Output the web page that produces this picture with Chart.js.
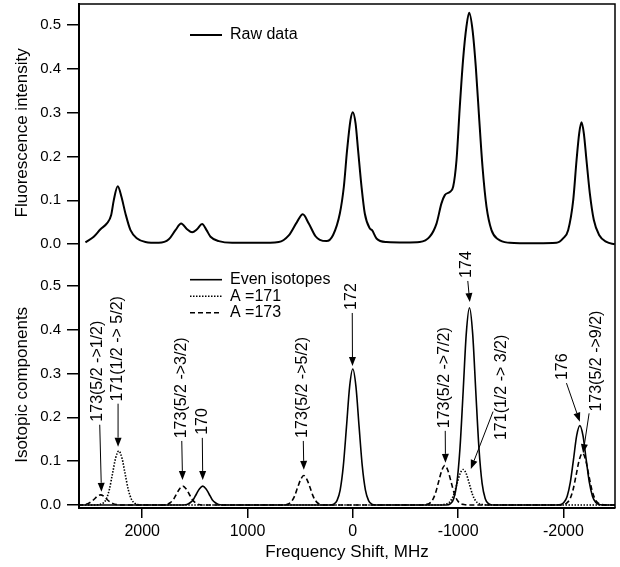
<!DOCTYPE html>
<html>
<head>
<meta charset="utf-8">
<script src="https://cdn.jsdelivr.net/npm/chart.js@4/dist/chart.umd.min.js"></script>
<style>
  html,body{margin:0;padding:0;background:#fff;}
  #wrap{width:620px;height:567px;}
</style>
</head>
<body>
<div id="wrap"><canvas id="shift" width="620" height="567"></canvas></div>
<script>
// top panel: raw fluorescence scan (MHz, intensity)
const rawX = [-2488,-2409,-2339,-2289,-2251,-2219,-2194,-2172,-2150,-2125,-2093,-2045,-1997,-1934,-1750,-1586,
  -1491,-1380,-1317,-1270,-1232,-1199,-1168,-1137,-1105,-1080,-1047,-1016,-985,-953,-921,-874,-842,-795,-731,
  -636,-500,-320,-225,-183,-161,-114,-83,-50,-26,0,22,54,85,123,187,250,313,354,418,475,529,608,703,900,
  1146,1273,1351,1389,1431,1479,1526,1574,1630,1684,1747,1842,1969,2048,2111,2159,2197,2232,2270,2295,2333,
  2396,2460,2539];
const rawY = [0.000,0.005,0.021,0.055,0.116,0.192,0.253,0.278,0.253,0.192,0.100,0.032,0.013,0.003,0.002,0.002,
  0.003,0.011,0.032,0.085,0.176,0.291,0.405,0.489,0.528,0.498,0.420,0.313,0.192,0.131,0.119,0.112,0.093,0.047,0.017,
  0.005,0.004,0.005,0.013,0.032,0.036,0.070,0.131,0.215,0.276,0.301,0.283,0.215,0.131,0.070,0.021,0.007,0.010,0.018,0.047,0.068,0.051,0.020,0.005,0.003,
  0.003,0.007,0.017,0.032,0.046,0.034,0.027,0.034,0.047,0.032,0.011,0.003,0.005,0.013,0.032,0.070,0.108,0.132,0.100,0.066,0.048,
  0.034,0.017,0.004];

// bottom panel: fitted components
const evenX = [-2490,
  -2376,-2336,-2306,-2276,-2246,-2216,-2186,-2156,-2126,-2096,-2066,-2036,-2006,-1976,-1936,
  -1328,-1288,-1258,-1228,-1198,-1168,-1138,-1108,-1078,-1048,-1018,-988,-958,-928,-888,
  -220,-180,-150,-120,-90,-60,-30,0,30,60,90,120,150,180,220,
  1205,1245,1275,1305,1335,1365,1395,1425,1455,1485,1515,1545,1575,1605,1645,
  2600];
const evenY = [0,
  0,0.001,0.006,0.020,0.052,0.104,0.158,0.181,0.158,0.104,0.052,0.020,0.006,0.001,0,
  0,0.003,0.014,0.049,0.130,0.259,0.392,0.450,0.392,0.259,0.130,0.049,0.014,0.003,0,
  0,0.002,0.010,0.034,0.089,0.178,0.270,0.310,0.270,0.178,0.089,0.034,0.010,0.002,0,
  0,0,0.001,0.005,0.012,0.025,0.037,0.043,0.037,0.025,0.012,0.005,0.001,0,0,
  0];

const a171X = [-2490,
  -1268,-1228,-1198,-1168,-1138,-1108,-1078,-1048,-1018,-988,-958,-928,-898,-868,-828,
  2002,2042,2072,2102,2132,2162,2192,2222,2252,2282,2312,2342,2372,2402,2442,
  2600];
const a171Y = [0,
  0,0.001,0.003,0.009,0.023,0.047,0.071,0.081,0.071,0.047,0.023,0.009,0.003,0.001,0,
  0,0.001,0.004,0.013,0.035,0.071,0.107,0.123,0.107,0.071,0.035,0.013,0.004,0.001,0,
  0];

const a173X = [-2490,
  -2401,-2361,-2331,-2301,-2271,-2241,-2211,-2181,-2151,-2121,-2091,-2061,-2031,-2001,-1961,
  -1094,-1054,-1024,-994,-964,-934,-904,-874,-844,-814,-784,-754,-724,-694,-654,
  245,285,315,345,375,405,435,465,495,525,555,585,615,645,685,
  1394,1434,1464,1494,1524,1554,1584,1614,1644,1674,1704,1734,1764,1794,1834,
  2176,2216,2246,2276,2306,2336,2366,2396,2426,2456,2486,2516,2546,2576,2600];
const a173Y = [0,
  0,0.001,0.004,0.013,0.034,0.068,0.103,0.118,0.103,0.068,0.034,0.013,0.004,0.001,0,
  0,0.001,0.003,0.010,0.026,0.052,0.078,0.090,0.078,0.052,0.026,0.010,0.003,0.001,0,
  0,0,0.002,0.007,0.019,0.039,0.058,0.067,0.058,0.039,0.019,0.007,0.002,0,0,
  0,0,0.001,0.005,0.012,0.025,0.037,0.043,0.037,0.025,0.012,0.005,0.001,0,0,
  0,0,0.001,0.003,0.007,0.013,0.020,0.023,0.020,0.013,0.007,0.003,0.001,0,0];

const xTicks = [2000, 1000, 0, -1000, -2000];
const yTicks = [0, 0.1, 0.2, 0.3, 0.4, 0.5];

// peak labels: text, label foot [MHz, value], arrow start, arrow tip
const notes = [
  ['173(5/2 ->1/2)', [2424, 0.190], [2403, 0.183], [2387, 0.030]],
  ['171(1/2 -> 5/2)', [2229, 0.236], [2229, 0.231], [2229, 0.133]],
  ['173(5/2 ->3/2)', [1627, 0.152], [1624, 0.146], [1617, 0.057]],
  ['170', [1431, 0.160], [1429, 0.153], [1425, 0.057]],
  ['173(5/2 ->5/2)', [472, 0.153], [470, 0.146], [465, 0.080]],
  ['172', [12, 0.445], [5, 0.438], [3, 0.317]],
  ['173(5/2 ->7/2)', [-874, 0.175], [-878, 0.169], [-880, 0.096]],
  ['174', [-1085, 0.518], [-1092, 0.511], [-1111, 0.463]],
  ['171(1/2 -> 3/2)', [-1412, 0.148], [-1332, 0.213], [-1121, 0.082]],
  ['176', [-1997, 0.285], [-2029, 0.278], [-2156, 0.190]],
  ['173(5/2 ->9/2)', [-2314, 0.213], [-2244, 0.209], [-2187, 0.118]]
];

const FONT = 'Liberation Sans, Arial, Helvetica, sans-serif';

function series(label, xs, ys, axis, dash, width) {
  return {
    label: label,
    data: xs.map((x, i) => ({x: x, y: ys[i]})),
    yAxisID: axis,
    borderColor: '#000',
    borderWidth: width,
    borderDash: dash,
    pointRadius: 0,
    fill: false,
    cubicInterpolationMode: 'monotone'
  };
}

function yAxis(title, min, max, weight) {
  return {
    type: 'linear',
    position: 'left',
    stack: 'panels',
    stackWeight: weight,
    min: min,
    max: max,
    afterBuildTicks: s => { s.ticks = yTicks.map(v => ({value: v})); },
    afterFit: s => { s.width = 79; s.paddingTop = 0; s.paddingBottom = 0; },
    grid: {drawOnChartArea: false, color: '#000', tickLength: 12, lineWidth: 1.5},
    border: {color: '#000', width: 2},
    ticks: {color: '#000', font: {family: FONT, size: 15}, padding: 6, callback: v => v.toFixed(1)},
    title: {display: true, text: title, color: '#000', font: {family: FONT, size: 17}, padding: {top: 12, bottom: 0}}
  };
}

const decor = {
  id: 'decor',
  afterDraw(chart) {
    const {ctx, chartArea: a, scales} = chart;
    const x = scales.x, yI = scales.yIso, yR = scales.yRaw;
    ctx.save();
    ctx.strokeStyle = '#000';
    ctx.fillStyle = '#000';
    // frame: top and right sides
    ctx.lineWidth = 1.5;
    ctx.beginPath();
    ctx.moveTo(a.left, a.top);
    ctx.lineTo(a.right, a.top);
    ctx.lineTo(a.right, a.bottom);
    ctx.stroke();

    // legends
    ctx.font = '16px ' + FONT;
    ctx.textBaseline = 'middle';
    ctx.textAlign = 'left';
    const lx = a.left + 111;
    const key = (ds, y) => {
      ctx.save();
      ctx.lineWidth = ds.borderWidth;
      ctx.setLineDash(ds.borderDash || []);
      ctx.beginPath();
      ctx.moveTo(lx, y);
      ctx.lineTo(lx + 32, y);
      ctx.stroke();
      ctx.restore();
      ctx.fillText(ds.label, lx + 40, y);
    };
    const sets = chart.data.datasets;
    key(sets[0], yR.top + 31);
    key(sets[1], yI.top + 18);
    key(sets[2], yI.top + 34.5);
    key(sets[3], yI.top + 51);

    // peak labels with arrows
    notes.forEach(n => {
      const tx = x.getPixelForValue(n[1][0]), ty = yI.getPixelForValue(n[1][1]);
      ctx.save();
      ctx.translate(tx, ty);
      ctx.rotate(-Math.PI / 2);
      ctx.fillText(n[0], 0, 0);
      ctx.restore();
      const sx = x.getPixelForValue(n[2][0]), sy = yI.getPixelForValue(n[2][1]);
      const ex = x.getPixelForValue(n[3][0]), ey = yI.getPixelForValue(n[3][1]);
      const ang = Math.atan2(ey - sy, ex - sx);
      const hl = 9, hw = 3.5;
      const bx = ex - hl * Math.cos(ang), by = ey - hl * Math.sin(ang);
      ctx.lineWidth = 1;
      ctx.beginPath();
      ctx.moveTo(sx, sy);
      ctx.lineTo(bx, by);
      ctx.stroke();
      ctx.beginPath();
      ctx.moveTo(ex, ey);
      ctx.lineTo(bx + hw * Math.sin(ang), by - hw * Math.cos(ang));
      ctx.lineTo(bx - hw * Math.sin(ang), by + hw * Math.cos(ang));
      ctx.closePath();
      ctx.fill();
    });
    ctx.restore();
  }
};

new Chart(document.getElementById('shift'), {
  type: 'line',
  data: {
    datasets: [
      series('Raw data', rawX, rawY, 'yRaw', [], 2),
      series('Even isotopes', evenX, evenY, 'yIso', [], 1.6),
      series('A =171', a171X, a171Y, 'yIso', [1.5, 1.5], 1.6),
      series('A =173', a173X, a173Y, 'yIso', [5, 3], 1.6)
    ]
  },
  options: {
    responsive: false,
    animation: false,
    layout: {padding: {left: 0, right: 5, top: 4, bottom: 0}},
    plugins: {legend: {display: false}, tooltip: {enabled: false}},
    scales: {
      x: {
        type: 'linear',
        reverse: true,
        min: -2490,
        max: 2600,
        afterBuildTicks: s => { s.ticks = xTicks.map(v => ({value: v})); },
        afterFit: s => { s.height = 59; s.paddingLeft = 0; s.paddingRight = 0; },
        grid: {drawOnChartArea: false, color: '#000', tickLength: 10, lineWidth: 1.5},
        border: {color: '#000', width: 2},
        ticks: {color: '#000', font: {family: FONT, size: 16}, padding: 4, maxRotation: 0, callback: v => String(v)},
        title: {display: true, text: 'Frequency Shift, MHz', color: '#000', font: {family: FONT, size: 17}, padding: {top: 0, bottom: 4}}
      },
      yIso: yAxis('Isotopic components', -0.007, 0.555, 0.562),
      yRaw: yAxis('Fluorescence intensity', -0.04, 0.548, 0.588)
    }
  },
  plugins: [decor]
});
</script>
</body>
</html>
